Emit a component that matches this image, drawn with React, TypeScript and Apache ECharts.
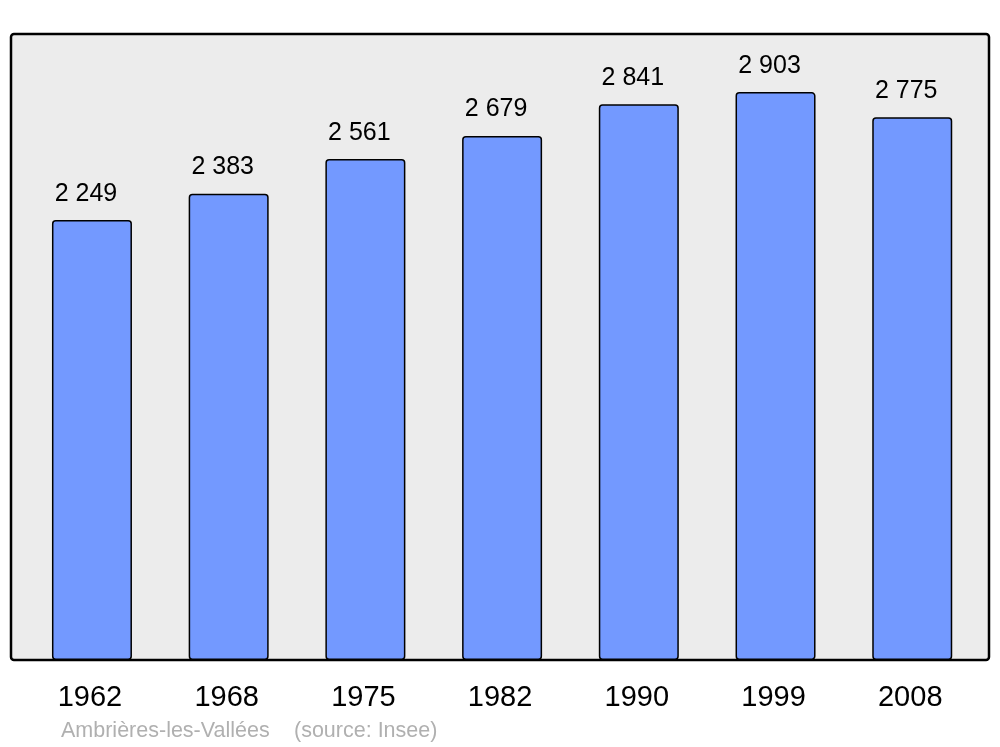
import React, { useEffect, useRef } from "react";
import * as echarts from "echarts";

const years = ["1962", "1968", "1975", "1982", "1990", "1999", "2008"];
const population = [2249, 2383, 2561, 2679, 2841, 2903, 2775];
const footerPlace = "Ambrières-les-Vallées";
const footerSource = "(source: Insee)";

const fmt = (v: number) => {
  const s = String(v);
  return s.replace(/\B(?=(\d{3})+(?!\d))/g, " ");
};

export default function App() {
  const ref = useRef<HTMLDivElement>(null);
  useEffect(() => {
    if (!ref.current) return;
    const chart = echarts.init(ref.current, null, { renderer: "svg" });
    const font = "Liberation Sans, Arial, sans-serif";
    chart.setOption({
      animation: false,
      textStyle: { fontFamily: font },
      graphic: [
        {
          type: "rect",
          z: -10,
          shape: { x: 11, y: 34, width: 978, height: 626, r: 3 },
          style: { fill: "#ececec", stroke: "#000", lineWidth: 2.5 },
        },
        {
          type: "text",
          left: 61,
          top: 719,
          style: { text: footerPlace, fill: "#b0b0b0", fontSize: 21.5, fontFamily: font },
        },
        {
          type: "text",
          left: 294,
          top: 719,
          style: { text: footerSource, fill: "#b0b0b0", fontSize: 21.5, fontFamily: font },
        },
      ],
      grid: { left: 23.6, width: 957, top: 34, height: 626, containLabel: false },
      xAxis: {
        type: "category",
        data: years,
        axisLine: { show: false },
        axisTick: { show: false },
        axisLabel: {
          color: "#000",
          fontSize: 29,
          margin: 21,
          formatter: (v: string) => v,
          padding: [0, 4, 0, 0],
        },
      },
      yAxis: {
        type: "value",
        min: 0,
        max: 3200,
        show: false,
        splitLine: { show: false },
      },
      series: [
        {
          type: "bar",
          data: population,
          barWidth: 80,
          itemStyle: {
            color: "#7399ff",
            borderColor: "#000",
            borderWidth: 1.5,
            borderRadius: 3,
          },
          label: {
            show: true,
            position: "top",
            distance: 16,
            offset: [-6, 0],
            color: "#000",
            fontSize: 25,
            formatter: (p: any) => fmt(p.value),
          },
        },
      ],
    });
    return () => chart.dispose();
  }, []);
  return (
    <div
      ref={ref}
      style={{ position: "fixed", left: 0, top: 0, width: 1000, height: 747 }}
    />
  );
}
